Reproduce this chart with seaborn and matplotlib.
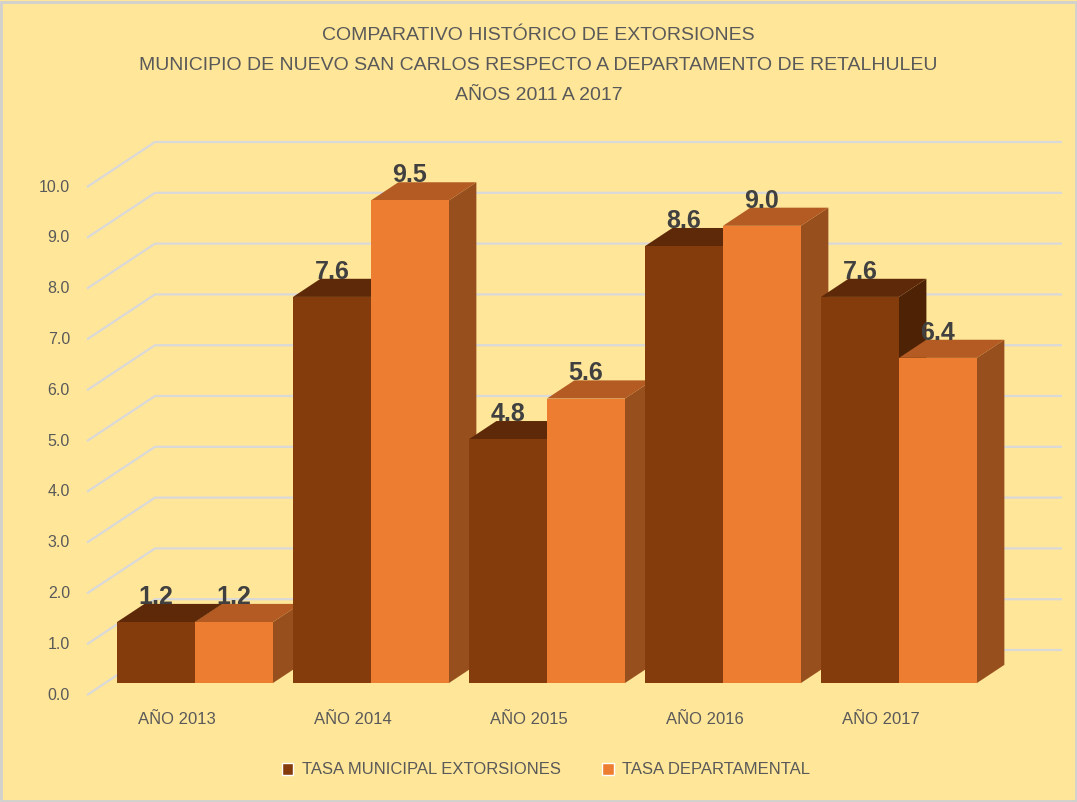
import matplotlib
matplotlib.use("Agg")
import matplotlib.pyplot as plt
from matplotlib.patches import Polygon, Rectangle, Patch
import seaborn as sns
import pandas as pd

# ---------------- data ----------------
years = ["AÑO 2013", "AÑO 2014", "AÑO 2015", "AÑO 2016", "AÑO 2017"]
tasa_municipal = [1.2, 7.6, 4.8, 8.6, 7.6]
tasa_departamental = [1.2, 9.5, 5.6, 9.0, 6.4]
series_names = ["TASA MUNICIPAL EXTORSIONES", "TASA DEPARTAMENTAL"]
y_ticks = [0, 1, 2, 3, 4, 5, 6, 7, 8, 9, 10]
title_lines = ["COMPARATIVO HISTÓRICO DE EXTORSIONES",
               "MUNICIPIO DE NUEVO SAN CARLOS RESPECTO A DEPARTAMENTO DE RETALHULEU",
               "AÑOS 2011 A 2017"]

df = pd.DataFrame({
    "year": years * 2,
    "serie": [series_names[0]] * len(years) + [series_names[1]] * len(years),
    "valor": tasa_municipal + tasa_departamental,
})

# ---------------- style ----------------
W, H, DPI = 1077, 802, 100
BG = "#FFE699"
GRID = "#D9D9D9"
TXT = "#595959"
front_cols = ["#843C0C", "#ED7D31"]
top_cols = ["#5E2908", "#B35B22"]
side_cols = ["#4E2205", "#984F1E"]

sns.set_theme(style="white")
plt.rcParams["font.family"] = ["Liberation Sans", "DejaVu Sans"]

fig = plt.figure(figsize=(W / DPI, H / DPI), dpi=DPI, facecolor=BG)
ax = fig.add_axes([0, 0, 1, 1])
ax.set_facecolor(BG)

# pixel layout -> data mapping
CAT_PX, VAL_PX = 176.0, 50.8
cat0_px, val0_py = 195.0, 683.0
ax.set_xlim(-cat0_px / CAT_PX, (W - cat0_px) / CAT_PX)
ax.set_ylim(-(H - val0_py) / VAL_PX, val0_py / VAL_PX)
ax.set_axis_off()

# pseudo-3D depth
DX, DY = 68 / CAT_PX, 45 / VAL_PX
T1, T2 = 0.267, 0.67


def proj(x, v, t):
    return x + (t - T1) * DX, v + (t - T1) * DY


sns.barplot(data=df, x="year", y="valor", hue="serie", order=years,
            hue_order=series_names, palette=front_cols, width=0.886,
            linewidth=0, saturation=1, ax=ax, legend=False)
ax.set_xlim(-cat0_px / CAT_PX, (W - cat0_px) / CAT_PX)
ax.set_ylim(-(H - val0_py) / VAL_PX, val0_py / VAL_PX)
ax.set_axis_off()

# gridlines (left wall + back wall)
x_wall = (87 - cat0_px) / CAT_PX + T1 * DX
x_right = (1062 - cat0_px) / CAT_PX
for v in y_ticks:
    p0 = proj(x_wall, v, 0)
    p1 = proj(x_wall, v, 1)
    ax.plot([p0[0], p1[0], x_right], [p0[1], p1[1], p1[1]],
            color=GRID, lw=1.6, zorder=0.5, solid_capstyle="butt")
    ax.text(p0[0] - 17 / CAT_PX, p0[1], f"{v:.1f}", ha="right", va="center",
            fontsize=11.5, color=TXT)

# 3D faces for bars
bars = [p for p in ax.patches if p.get_height() > 0]
bars.sort(key=lambda p: p.get_x())
for i, b in enumerate(bars):
    fc = b.get_facecolor()
    k = 0 if abs(fc[0] - 0x84 / 255) < 0.05 else 1
    x0, w, h = b.get_x(), b.get_width(), b.get_height()
    x1 = x0 + w
    z = 2 + 3 * i
    top = [proj(x0, h, T1), proj(x1, h, T1), proj(x1, h, T2), proj(x0, h, T2)]
    side = [proj(x1, 0, T1), proj(x1, 0, T2), proj(x1, h, T2), proj(x1, h, T1)]
    ax.add_patch(Polygon(side, closed=True, fc=side_cols[k], ec="none", zorder=z))
    ax.add_patch(Polygon(top, closed=True, fc=top_cols[k], ec="none", zorder=z))
    b.set_zorder(z + 1)
    lx, ly = x0 + w / 2, h + (T2 - T1) * DY - 0.1
    ax.text(lx, ly, f"{h:.1f}", ha="center", va="bottom", fontsize=18,
            fontweight="bold", color="#404040", zorder=100)

# category labels at the front plane
for c, name in enumerate(years):
    px, _ = proj(c, 0, 0)
    ax.text(px, (val0_py - 720) / VAL_PX, name, ha="center", va="center",
            fontsize=12, color=TXT)

# title
for j, line in enumerate(title_lines):
    fig.text(0.5, 1 - (35 + 30 * j) / H, line, ha="center", va="center",
             fontsize=14, color=TXT)

# legend
handles = [Patch(facecolor=front_cols[0]), Patch(facecolor=front_cols[1])]
ax.legend(handles, series_names, loc="center", ncol=2, frameon=False,
          bbox_to_anchor=(546 / W, 1 - 770 / H), bbox_transform=fig.transFigure,
          handlelength=0.7, handleheight=0.7, handletextpad=0.5,
          columnspacing=2.5, fontsize=12, labelcolor=TXT)

# figure border
fig.patches.append(Rectangle((0.001, 0.001), 0.998, 0.997, transform=fig.transFigure,
                             fill=False, ec="#D0D0D0", lw=2))

fig.savefig("out.png", dpi=DPI, facecolor=BG)
